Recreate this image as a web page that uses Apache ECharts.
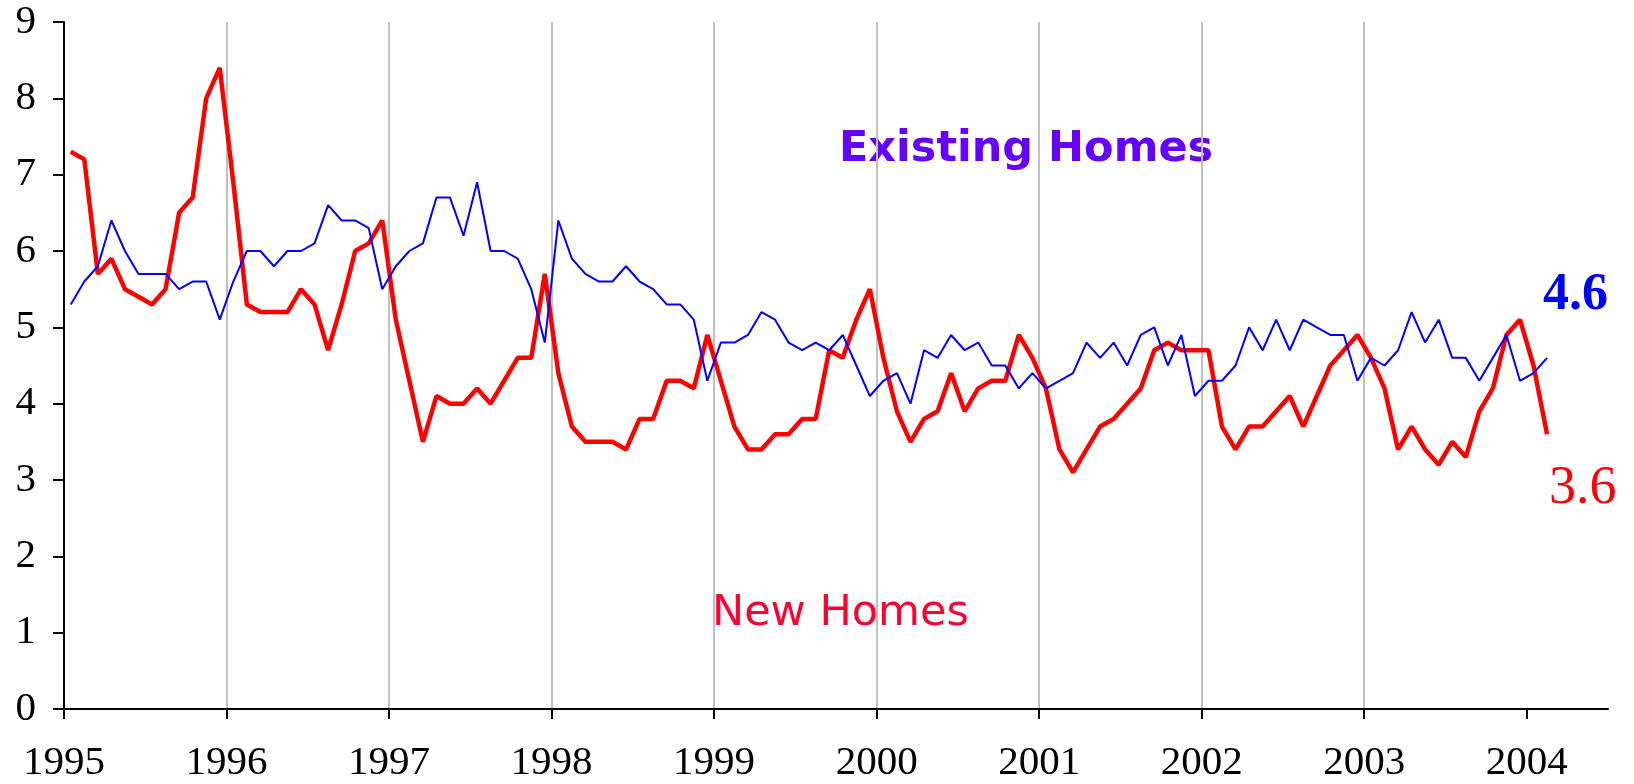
<!DOCTYPE html>
<html>
<head>
<meta charset="utf-8" />
<title>Months supply: new vs existing homes</title>
<script src="https://cdn.jsdelivr.net/npm/echarts@6/dist/echarts.min.js"></script>
<style>
    html, body { margin: 0; padding: 0; background: #fff; }
    #chart { width: 1634px; height: 784px; }
</style>
</head>
<body>
<div id="chart"></div>
<script>
// monthly data, Jan 1995 .. Feb 2004
const startYear = 1995;
const yearTicks = [1995, 1996, 1997, 1998, 1999, 2000, 2001, 2002, 2003, 2004];
const yTicks = [0, 1, 2, 3, 4, 5, 6, 7, 8, 9];

const newHomes = [
    7.3, 7.2, 5.7, 5.9, 5.5, 5.4, 5.3, 5.5, 6.5, 6.7, 8.0, 8.4,
    6.9, 5.3, 5.2, 5.2, 5.2, 5.5, 5.3, 4.7, 5.3, 6.0, 6.1, 6.4,
    5.1, 4.3, 3.5, 4.1, 4.0, 4.0, 4.2, 4.0, 4.3, 4.6, 4.6, 5.7,
    4.4, 3.7, 3.5, 3.5, 3.5, 3.4, 3.8, 3.8, 4.3, 4.3, 4.2, 4.9,
    4.3, 3.7, 3.4, 3.4, 3.6, 3.6, 3.8, 3.8, 4.7, 4.6, 5.1, 5.5,
    4.6, 3.9, 3.5, 3.8, 3.9, 4.4, 3.9, 4.2, 4.3, 4.3, 4.9, 4.6,
    4.2, 3.4, 3.1, 3.4, 3.7, 3.8, 4.0, 4.2, 4.7, 4.8, 4.7, 4.7,
    4.7, 3.7, 3.4, 3.7, 3.7, 3.9, 4.1, 3.7, 4.1, 4.5, 4.7, 4.9,
    4.6, 4.2, 3.4, 3.7, 3.4, 3.2, 3.5, 3.3, 3.9, 4.2, 4.9, 5.1,
    4.5, 3.6
];

const existingHomes = [
    5.3, 5.6, 5.8, 6.4, 6.0, 5.7, 5.7, 5.7, 5.5, 5.6, 5.6, 5.1,
    5.6, 6.0, 6.0, 5.8, 6.0, 6.0, 6.1, 6.6, 6.4, 6.4, 6.3, 5.5,
    5.8, 6.0, 6.1, 6.7, 6.7, 6.2, 6.9, 6.0, 6.0, 5.9, 5.5, 4.8,
    6.4, 5.9, 5.7, 5.6, 5.6, 5.8, 5.6, 5.5, 5.3, 5.3, 5.1, 4.3,
    4.8, 4.8, 4.9, 5.2, 5.1, 4.8, 4.7, 4.8, 4.7, 4.9, 4.5, 4.1,
    4.3, 4.4, 4.0, 4.7, 4.6, 4.9, 4.7, 4.8, 4.5, 4.5, 4.2, 4.4,
    4.2, 4.3, 4.4, 4.8, 4.6, 4.8, 4.5, 4.9, 5.0, 4.5, 4.9, 4.1,
    4.3, 4.3, 4.5, 5.0, 4.7, 5.1, 4.7, 5.1, 5.0, 4.9, 4.9, 4.3,
    4.6, 4.5, 4.7, 5.2, 4.8, 5.1, 4.6, 4.6, 4.3, 4.6, 4.9, 4.3,
    4.4, 4.6
];

// each month sits in the middle of its slot on the year axis
const toPoints = (arr) => arr.map((v, i) => [startYear + (i + 0.5) / 12, v]);

const serif = "'Times New Roman', 'Liberation Serif', serif";
const sans = "Verdana, 'DejaVu Sans', sans-serif";

const chart = echarts.init(document.getElementById("chart"));

const option = {
    animation: false,
    backgroundColor: "#fff",
    grid: {
        left: 64,
        right: 26,
        top: 22,
        bottom: 72
    },
    xAxis: {
        type: "value",
        min: 1995,
        max: 2004.5,
        interval: 1,
        axisLine: { lineStyle: { color: "#000", width: 2 } },
        axisTick: {
            customValues: yearTicks,
            length: 10,
            lineStyle: { color: "#000", width: 2 }
        },
        axisLabel: {
            customValues: yearTicks,
            formatter: (v) => String(v),
            color: "#000",
            fontFamily: serif,
            fontSize: 41,
            margin: 34
        },
        splitLine: {
            show: true,
            showMinLine: false,
            showMaxLine: false,
            lineStyle: { color: "#c0c0c0", width: 2 }
        }
    },
    yAxis: {
        type: "value",
        min: 0,
        max: 9,
        interval: 1,
        axisLine: { show: true, lineStyle: { color: "#000", width: 2 } },
        axisTick: {
            show: true,
            customValues: yTicks,
            length: 11,
            lineStyle: { color: "#000", width: 2 }
        },
        axisLabel: {
            color: "#000",
            fontFamily: serif,
            fontSize: 41,
            margin: 28
        },
        splitLine: { show: false }
    },
    series: [
        {
            name: "New Homes",
            type: "line",
            data: toPoints(newHomes),
            showSymbol: false,
            color: "#ff0000",
            lineStyle: { width: 4.5, color: "#ff0000" },
            endLabel: {
                show: true,
                formatter: (p) => p.value[1].toFixed(1),
                color: "#ff0000",
                fontFamily: serif,
                fontSize: 54,
                distance: 0,
                align: "left",
                verticalAlign: "middle",
                offset: [2, 55]
            }
        },
        {
            name: "Existing Homes",
            type: "line",
            data: toPoints(existingHomes),
            showSymbol: false,
            color: "#0000ff",
            lineStyle: { width: 2, color: "#0000ff" },
            endLabel: {
                show: true,
                formatter: (p) => p.value[1].toFixed(1),
                color: "#0000ff",
                fontFamily: serif,
                fontWeight: "bold",
                fontSize: 52,
                distance: 0,
                align: "left",
                verticalAlign: "middle",
                offset: [-4, -62]
            }
        }
    ],
    graphic: [
        {
            type: "text",
            left: 839,
            top: 128,
            style: {
                text: "Existing Homes",
                fill: "#6600ff",
                font: "bold 43px " + sans
            }
        },
        {
            type: "text",
            left: 712,
            top: 592,
            style: {
                text: "New Homes",
                fill: "#ff0033",
                font: "43px " + sans
            }
        }
    ]
};

chart.setOption(option);
window.addEventListener("resize", () => chart.resize());
</script>
</body>
</html>
